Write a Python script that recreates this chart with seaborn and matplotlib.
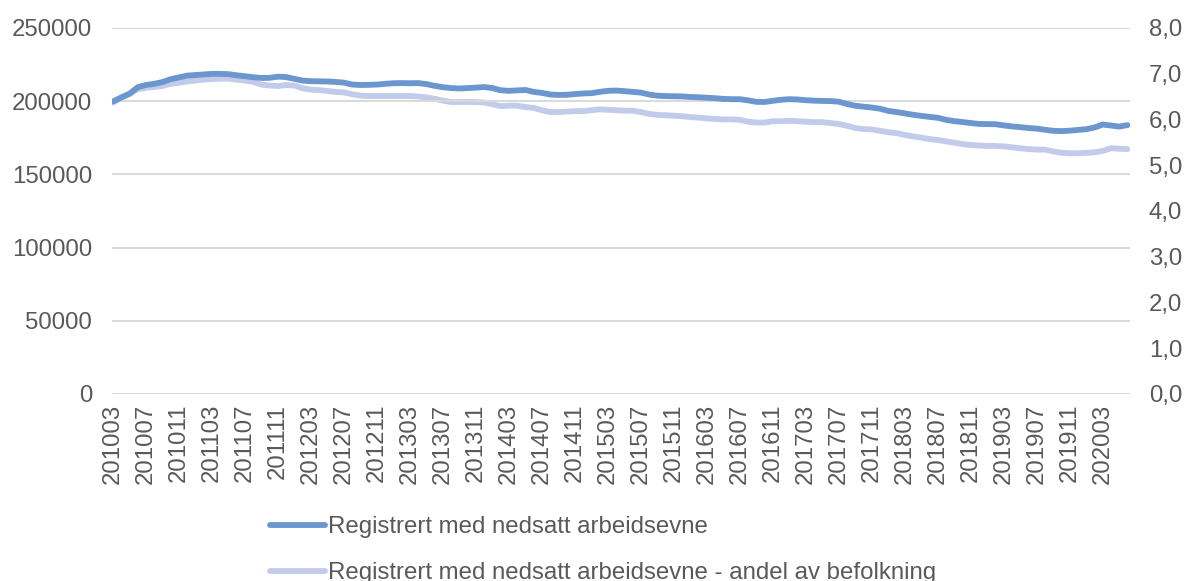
import matplotlib
matplotlib.use("Agg")
import matplotlib.pyplot as plt
import matplotlib.ticker as mticker
import seaborn as sns
import pandas as pd

# monthly periods 201003 .. 202006
periods = [f"{y}{m:02d}" for y in range(2010, 2021) for m in range(1, 13)]
periods = periods[periods.index("201003"):periods.index("202006") + 1]

registrert = [
    199.7, 202.5, 205.0, 209.5, 211.0, 211.8, 213.0, 215.0, 216.2, 217.4,
    217.8, 218.2, 218.6, 218.6, 218.4, 217.6, 217.0, 216.3, 215.8, 215.9, 216.7, 216.4,
    215.2, 214.0, 213.6, 213.5, 213.4, 213.1, 212.6, 211.3, 211.0, 211.1, 211.3, 211.8,
    212.2, 212.3, 212.2, 212.3, 211.6, 210.4, 209.5, 208.9, 208.6, 208.9, 209.2, 209.6,
    208.9, 207.4, 207.0, 207.3, 207.6, 206.3, 205.6, 204.5, 204.2, 204.3, 204.8, 205.2,
    205.4, 206.3, 207.0, 207.2, 206.8, 206.3, 205.8, 204.5, 203.7, 203.4, 203.3, 203.2,
    202.8, 202.6, 202.3, 202.0, 201.5, 201.3, 201.3, 200.5, 199.5, 199.4, 200.2, 200.9,
    201.3, 201.1, 200.6, 200.3, 200.1, 200.0, 199.6, 198.0, 196.8, 196.2, 195.6, 194.8,
    193.3, 192.5, 191.6, 190.7, 189.9, 189.2, 188.6, 187.2, 186.3, 185.7, 185.0, 184.4,
    184.3, 184.2, 183.4, 182.7, 182.2, 181.6, 181.2, 180.4, 179.7, 179.5, 179.8, 180.3,
    180.8, 182.0, 184.0, 183.3, 182.6, 183.6,
]
registrert = [v * 1000 for v in registrert]

andel = [
    6.37, 6.47, 6.56, 6.66, 6.69, 6.71, 6.73, 6.78, 6.80, 6.83,
    6.85, 6.87, 6.88, 6.89, 6.89, 6.87, 6.85, 6.82, 6.76, 6.74, 6.73, 6.75,
    6.74, 6.68, 6.65, 6.64, 6.62, 6.60, 6.59, 6.55, 6.52, 6.51, 6.51, 6.51,
    6.51, 6.51, 6.51, 6.50, 6.48, 6.45, 6.41, 6.38, 6.38, 6.38, 6.38, 6.37,
    6.33, 6.29, 6.30, 6.30, 6.27, 6.25, 6.20, 6.16, 6.16, 6.17, 6.18, 6.18,
    6.20, 6.22, 6.21, 6.20, 6.19, 6.19, 6.16, 6.12, 6.10, 6.09, 6.08, 6.07,
    6.05, 6.04, 6.02, 6.01, 6.00, 6.00, 5.99, 5.95, 5.93, 5.93, 5.96, 5.96,
    5.97, 5.96, 5.95, 5.94, 5.94, 5.92, 5.90, 5.86, 5.81, 5.79, 5.78, 5.75,
    5.72, 5.70, 5.66, 5.63, 5.60, 5.57, 5.55, 5.52, 5.49, 5.46, 5.44, 5.43,
    5.42, 5.42, 5.41, 5.39, 5.37, 5.35, 5.34, 5.34, 5.30, 5.27, 5.26, 5.26,
    5.27, 5.28, 5.31, 5.37, 5.36, 5.35,
]

df = pd.DataFrame({"idx": range(len(periods)), "periode": periods,
                   "registrert": registrert, "andel": andel})

sns.set_style("white")
plt.rcParams["font.family"] = ["Liberation Sans", "DejaVu Sans"]
text_color = "#595959"
c_dark = "#6C96CE"
c_light = "#C3CBEA"
fs = 17.3
lw = 4.2

fig = plt.figure(figsize=(11.89, 5.81), dpi=100)
ax = fig.add_axes([0.094, 0.322, 0.856, 0.630])
ax2 = ax.twinx()

# light line on the right axis (share), dark line on the left axis (count)
sns.lineplot(data=df, x="idx", y="andel", ax=ax2, color=c_light, lw=lw,
             solid_capstyle="round", legend=False)
sns.lineplot(data=df, x="idx", y="registrert", ax=ax, color=c_dark, lw=lw,
             solid_capstyle="round", legend=False)
ax.set_zorder(ax2.get_zorder() + 1)
ax.patch.set_visible(False)

ax.set_ylim(0, 250000)
ax.set_yticks(range(0, 250001, 50000))
ax2.set_ylim(0, 8)
ax2.set_yticks(range(0, 9))
ax2.yaxis.set_major_formatter(mticker.FuncFormatter(lambda v, p: f"{v:.1f}".replace(".", ",")))

ax.set_xlim(-0.15, len(periods) - 1 + 0.25)
ticks = list(range(0, len(periods), 4))
ax.set_xticks(ticks)
ax.set_xticklabels([periods[i] for i in ticks], rotation=90)

ax.grid(axis="y", color="#D9D9D9", lw=1.4)
ax.set_axisbelow(True)
for a in (ax, ax2):
    for s in a.spines.values():
        s.set_visible(False)
    a.set_xlabel("")
    a.set_ylabel("")
    a.tick_params(length=0, labelsize=fs, labelcolor=text_color)
ax.tick_params(axis="x", pad=7)
ax.tick_params(axis="y", pad=14)
ax2.tick_params(axis="y", pad=14)

handles = [plt.Line2D([], [], color=c_dark, lw=lw, solid_capstyle="round"),
           plt.Line2D([], [], color=c_light, lw=lw, solid_capstyle="round")]
labels = ["Registrert med nedsatt arbeidsevne",
          "Registrert med nedsatt arbeidsevne - andel av befolkning"]
leg = fig.legend(handles, labels, loc="upper left", bbox_to_anchor=(0.219, 0.128),
                 frameon=False, fontsize=fs, handlelength=2.3, handletextpad=0.1,
                 labelspacing=1.0, borderaxespad=0)
for t in leg.get_texts():
    t.set_color(text_color)

fig.savefig("out.png", dpi=100)
